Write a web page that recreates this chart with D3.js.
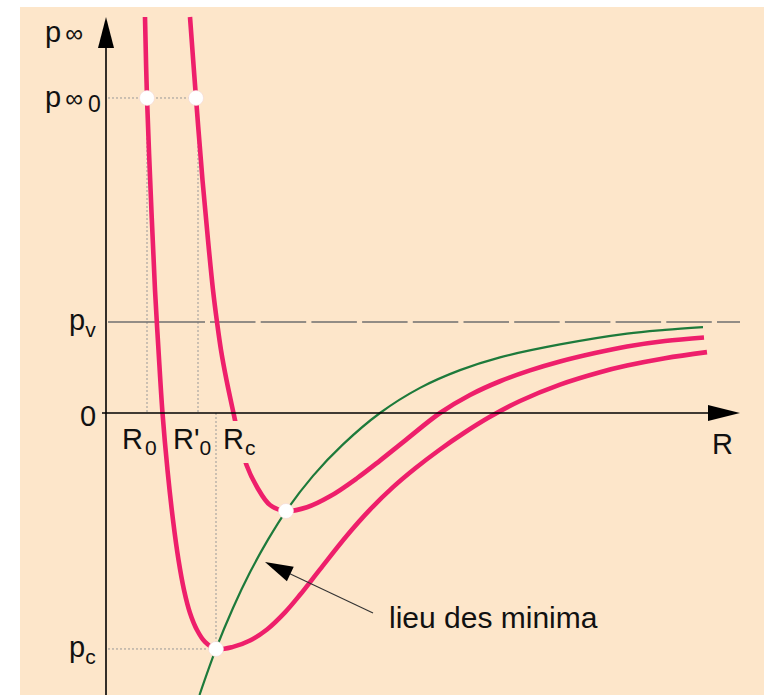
<!DOCTYPE html>
<html>
<head>
<meta charset="utf-8">
<script src="https://cdn.jsdelivr.net/npm/d3@7"></script>
<style>
  html, body { margin: 0; padding: 0; background: #ffffff; }
  svg { display: block; }
  text { font-family: "Liberation Sans", Arial, sans-serif; fill: #111; }
</style>
</head>
<body>
<svg id="chart" width="764" height="695"></svg>
<script>
// Characteristic levels on the pressure axis (pv = 1 as reference unit)
const pInf0 = 3.462;
const pV = 1.0;
const pC = -2.593;

// Characteristic radii
const R0 = 0.82;
const R0prime = 1.84;
const Rc = 2.20;

// Equilibrium curve starting from R0  [R, p∞]
const curveFromR0 = [
  [0.78, 4.352], [0.82, 3.462], [0.90, 2.341], [0.98, 1.352], [1.05, 0.692],
  [1.13, 0.0], [1.23, -0.626], [1.34, -1.176], [1.45, -1.615], [1.56, -1.945],
  [1.68, -2.198], [1.82, -2.385], [1.98, -2.516], [2.20, -2.593], [2.54, -2.570],
  [2.88, -2.500], [3.22, -2.379], [3.58, -2.191], [3.88, -1.998], [4.28, -1.718],
  [4.82, -1.346], [5.28, -1.062], [5.74, -0.815], [6.18, -0.610], [6.68, -0.401],
  [7.18, -0.212], [7.68, -0.042], [8.28, 0.132], [9.08, 0.312], [9.88, 0.448],
  [10.42, 0.521], [11.18, 0.602], [12.02, 0.669]
];

// Equilibrium curve starting from R'0
const curveFromR0prime = [
  [1.68, 4.352], [1.80, 3.462], [1.93, 2.560], [2.04, 1.901], [2.14, 1.352],
  [2.22, 1.0], [2.30, 0.692], [2.41, 0.363], [2.55, 0.0], [2.67, -0.297],
  [2.81, -0.571], [3.02, -0.813], [3.28, -1.011], [3.60, -1.077], [4.02, -1.036],
  [4.48, -0.916], [5.02, -0.717], [5.48, -0.523], [5.98, -0.303], [6.68, 0.0],
  [7.28, 0.198], [7.88, 0.349], [8.48, 0.468], [9.08, 0.566], [9.78, 0.659],
  [10.42, 0.731], [11.18, 0.791], [11.96, 0.830]
];

// Locus of the minima
const minimaLocus = [
  [1.87, -3.099], [2.20, -2.593], [2.54, -2.143], [2.88, -1.751], [3.24, -1.392],
  [3.60, -1.077], [4.14, -0.691], [4.74, -0.345], [5.48, 0.0], [6.28, 0.276],
  [7.08, 0.471], [7.88, 0.612], [9.08, 0.754], [10.42, 0.873], [11.18, 0.914],
  [11.94, 0.944]
];

// Marked points: p∞0 on both curves, and the two minima
const markedPoints = [
  [0.82, 3.462], [1.80, 3.462], [3.60, -1.077], [2.20, -2.593]
];

// Annotation: arrow from the label towards the locus
const annotationArrow = [[5.34, -2.198], [3.18, -1.637]];
const annotationLabel = { R: 5.66, p: -2.363, text: "lieu des minima" };

const W = 764, H = 695;
const svg = d3.select("#chart");

const x = d3.scaleLinear().domain([0, 12.68]).range([106, 740]);
const y = d3.scaleLinear().domain([-3.099, 4.352]).range([695, 17]);

const PINK = "#ee1f6b";
const GREEN = "#1d7a3b";
const BG = "#fde6ca";

// Panel background
svg.append("rect")
  .attr("x", 20).attr("y", 7)
  .attr("width", W - 20).attr("height", H - 7)
  .attr("fill", BG);

// Dotted construction lines
const dotted = svg.append("g")
  .attr("stroke", "#999")
  .attr("stroke-width", 1)
  .attr("stroke-dasharray", "2,2")
  .attr("fill", "none");

dotted.append("line")
  .attr("x1", x(0) + 2).attr("x2", x(R0prime))
  .attr("y1", y(pInf0)).attr("y2", y(pInf0));
dotted.append("line")
  .attr("x1", x(R0)).attr("x2", x(R0))
  .attr("y1", y(pInf0)).attr("y2", y(0));
dotted.append("line")
  .attr("x1", x(R0prime)).attr("x2", x(R0prime))
  .attr("y1", y(pInf0)).attr("y2", y(0));
dotted.append("line")
  .attr("x1", x(Rc)).attr("x2", x(Rc))
  .attr("y1", y(0)).attr("y2", y(pC));
dotted.append("line")
  .attr("x1", x(0) + 2).attr("x2", x(Rc))
  .attr("y1", y(pC)).attr("y2", y(pC));

// Vapour pressure level: solid near the axis, long dashes beyond
svg.append("line")
  .attr("x1", x(0) + 2).attr("x2", 205)
  .attr("y1", y(pV)).attr("y2", y(pV))
  .attr("stroke", "#6f6f6f").attr("stroke-width", 1.3);
svg.append("line")
  .attr("x1", 210).attr("x2", 740)
  .attr("y1", y(pV)).attr("y2", y(pV))
  .attr("stroke", "#6f6f6f").attr("stroke-width", 1.3)
  .attr("stroke-dasharray", "45.5,5.2");

// Curves
const line = d3.line()
  .x(d => x(d[0]))
  .y(d => y(d[1]))
  .curve(d3.curveCatmullRom.alpha(0.5));

svg.append("path")
  .datum(minimaLocus)
  .attr("d", line)
  .attr("fill", "none")
  .attr("stroke", GREEN)
  .attr("stroke-width", 2.2);

svg.append("path")
  .datum(curveFromR0)
  .attr("d", line)
  .attr("fill", "none")
  .attr("stroke", PINK)
  .attr("stroke-width", 4.6);

svg.append("path")
  .datum(curveFromR0prime)
  .attr("d", line)
  .attr("fill", "none")
  .attr("stroke", PINK)
  .attr("stroke-width", 4.6);

// Axes with arrow heads
const axisG = svg.append("g");
axisG.append("line")
  .attr("x1", x(0)).attr("x2", x(0))
  .attr("y1", 46).attr("y2", H)
  .attr("stroke", "#000").attr("stroke-width", 1.6);
axisG.append("path")
  .attr("d", `M${x(0)},17 L${x(0) - 8},48 L${x(0) + 8},48 Z`)
  .attr("fill", "#000");

axisG.append("line")
  .attr("x1", x(0) - 4).attr("x2", 710)
  .attr("y1", y(0)).attr("y2", y(0))
  .attr("stroke", "#000").attr("stroke-width", 1.6);
axisG.append("path")
  .attr("d", `M740,${y(0)} L708,${y(0) - 8} L708,${y(0) + 8} Z`)
  .attr("fill", "#000");

// Marked points
svg.append("g")
  .selectAll("circle")
  .data(markedPoints)
  .join("circle")
  .attr("cx", d => x(d[0]))
  .attr("cy", d => y(d[1]))
  .attr("r", 7.5)
  .attr("fill", "#ffffff")
  .attr("stroke", "#f4d6d6")
  .attr("stroke-width", 0.6);

// Annotation arrow
const [a0, a1] = annotationArrow;
const ax0 = x(a0[0]), ay0 = y(a0[1]), ax1 = x(a1[0]), ay1 = y(a1[1]);
const ang = Math.atan2(ay1 - ay0, ax1 - ax0);
const headLen = 28, headHalf = 8;
const bx = ax1 - headLen * Math.cos(ang), by = ay1 - headLen * Math.sin(ang);
svg.append("line")
  .attr("x1", ax0).attr("y1", ay0)
  .attr("x2", bx + 4 * Math.cos(ang)).attr("y2", by + 4 * Math.sin(ang))
  .attr("stroke", "#333").attr("stroke-width", 1.1);
svg.append("path")
  .attr("d", `M${ax1},${ay1} L${bx - headHalf * Math.sin(ang)},${by + headHalf * Math.cos(ang)} L${bx + headHalf * Math.sin(ang)},${by - headHalf * Math.cos(ang)} Z`)
  .attr("fill", "#000");

svg.append("text")
  .attr("x", x(annotationLabel.R))
  .attr("y", y(annotationLabel.p))
  .attr("font-size", 30)
  .text(annotationLabel.text);

// Axis labels
const BIG = 29, SMALL = 21, INF = 25;

function label(parts, px, py) {
  const t = svg.append("text").attr("x", px).attr("y", py).attr("font-size", BIG);
  parts.forEach(p => {
    const s = t.append("tspan").text(p.t);
    if (p.size) s.attr("font-size", p.size);
    if (p.dx) s.attr("dx", p.dx);
    if (p.dy) s.attr("dy", p.dy);
  });
  return t;
}

// p∞ (axis title)
label([{ t: "p" }, { t: "∞", size: INF, dx: 4 }], 45, 42);
// p∞0
label([{ t: "p" }, { t: "∞", size: INF, dx: 4 }, { t: "0", size: 23, dx: 5, dy: 5 }], 45, y(pInf0) + 9);
// pv
label([{ t: "p" }, { t: "v", size: SMALL, dy: 7 }], 69, y(pV) + 8);
// 0
label([{ t: "0" }], 80, y(0) + 13);
// pc
label([{ t: "p" }, { t: "c", size: SMALL, dy: 7 }], 69, y(pC) + 8);

// Mask under the Rc label so the curve passes behind it
svg.append("rect")
  .attr("x", 222).attr("y", y(0) + 8)
  .attr("width", 40).attr("height", 42)
  .attr("fill", BG);

// Radius labels
label([{ t: "R" }, { t: "0", size: SMALL, dx: 2, dy: 6 }], x(R0) - 25, y(0) + 36);
label([{ t: "R'" }, { t: "0", size: SMALL, dy: 6 }], x(R0prime) - 25, y(0) + 36);
label([{ t: "R" }, { t: "c", size: SMALL, dx: 1, dy: 6 }], x(Rc) + 7, y(0) + 36);
label([{ t: "R" }], 712, y(0) + 41);
</script>
</body>
</html>
